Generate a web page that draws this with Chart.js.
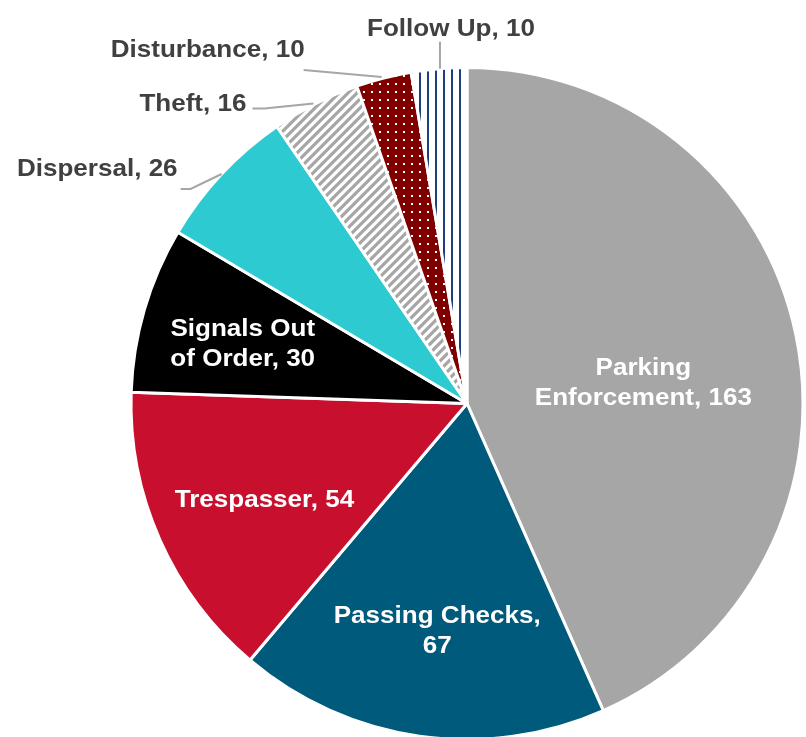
<!DOCTYPE html>
<html>
<head>
<meta charset="utf-8">
<title>Calls by type</title>
<script src="https://cdn.jsdelivr.net/npm/chart.js@4.4.0/dist/chart.umd.min.js"></script>
<style>
    html, body { margin: 0; padding: 0; background: #ffffff; }
    #wrap { width: 806px; height: 737px; }
</style>
</head>
<body>
<div id="wrap"><canvas id="callChart" width="806" height="737"></canvas></div>
<script>
// call types, clockwise from 12 o'clock
const categories = ["Parking Enforcement", "Passing Checks", "Trespasser", "Signals Out of Order",
    "Dispersal", "Theft", "Disturbance", "Follow Up"];
const counts = [163, 67, 54, 30, 26, 16, 10, 10];

// small tiles used as fills for the three smallest slices
function makePattern(size, drawTile) {
    const tile = document.createElement("canvas");
    tile.width = size;
    tile.height = size;
    drawTile(tile.getContext("2d"), size);
    return document.getElementById("callChart").getContext("2d").createPattern(tile, "repeat");
}

const diagonalGray = makePattern(9, (c, s) => {
    c.fillStyle = "#ffffff";
    c.fillRect(0, 0, s, s);
    c.strokeStyle = "#a6a6a6";
    c.lineWidth = 3.2;
    c.beginPath();
    c.moveTo(-2, s + 2); c.lineTo(s + 2, -2);
    c.moveTo(-2, 2); c.lineTo(2, -2);
    c.moveTo(s - 2, s + 2); c.lineTo(s + 2, s - 2);
    c.stroke();
});

const dottedRed = makePattern(8, (c, s) => {
    c.fillStyle = "#7f0000";
    c.fillRect(0, 0, s, s);
    c.fillStyle = "#ffffff";
    c.fillRect(3, 3, 2, 2);
});

const verticalNavy = makePattern(8, (c, s) => {
    c.fillStyle = "#ffffff";
    c.fillRect(0, 0, s, s);
    c.fillStyle = "#1f3f7c";
    c.fillRect(3, 0, 2, s);
});

const sliceColors = ["#a6a6a6", "#005a7c", "#c8102e", "#000000", "#2ecad1",
    diagonalGray, dottedRed, verticalNavy];

// where each label goes: inside ones are shifted from the slice centroid,
// outside ones from the point where the slice meets the rim
const labelPlacement = [
    { inside: true, dx: 12, dy: 6, wrap: 250 },
    { inside: true, dx: -6, dy: 53, wrap: 230 },
    { inside: true, dx: -49, dy: 35, wrap: 250 },
    { inside: true, dx: -63, dy: -20, wrap: 165 },
    { inside: false, dx: -44, dy: 2, align: "right", leader: [[0, 0], [-31, 15], [-41, 15]] },
    { inside: false, dx: -69, dy: 7, align: "right", leader: [[-2, 0], [-51, 5], [-63, 5]] },
    { inside: false, dx: -79, dy: -21, align: "right", leader: [[-2, -1], [-80, -8]] },
    { inside: false, dx: 12, dy: -33, align: "center", leader: [[1, 0], [1, -27]] }
];

const FONT_SIZE = 24;
const STRETCH = 1.085;   // the labels run a bit wider than plain Arial
const LINE_HEIGHT = 30;

function wrapText(ctx, text, maxWidth) {
    const words = text.split(" ");
    const lines = [];
    let line = "";
    words.forEach(w => {
        const test = line ? line + " " + w : w;
        if (line && ctx.measureText(test).width * STRETCH > maxWidth) {
            lines.push(line);
            line = w;
        } else {
            line = test;
        }
    });
    lines.push(line);
    return lines;
}

function drawLine(ctx, text, x, y, align) {
    ctx.save();
    ctx.translate(x, y);
    ctx.scale(STRETCH, 1);
    ctx.textAlign = align;
    ctx.fillText(text, 0, 0);
    ctx.restore();
}

const sliceLabels = {
    id: "sliceLabels",
    afterDatasetsDraw(chart) {
        const ctx = chart.ctx;
        const meta = chart.getDatasetMeta(0);
        ctx.save();
        ctx.font = "bold " + FONT_SIZE + "px 'Liberation Sans', Arial, sans-serif";
        ctx.textBaseline = "alphabetic";
        meta.data.forEach((arc, i) => {
            const place = labelPlacement[i];
            const text = categories[i] + ", " + counts[i];
            if (place.inside) {
                const c = arc.tooltipPosition(true);
                const lines = wrapText(ctx, text, place.wrap);
                ctx.fillStyle = "#ffffff";
                lines.forEach((ln, k) => {
                    drawLine(ctx, ln, c.x + place.dx, c.y + place.dy + k * LINE_HEIGHT, "center");
                });
            } else {
                const p = arc.getProps(["x", "y", "startAngle", "endAngle", "outerRadius"], true);
                const mid = (p.startAngle + p.endAngle) / 2;
                const ox = p.x + Math.cos(mid) * p.outerRadius;
                const oy = p.y + Math.sin(mid) * p.outerRadius;

                ctx.strokeStyle = "#a6a6a6";
                ctx.lineWidth = 2;
                ctx.beginPath();
                place.leader.forEach(([lx, ly], k) => {
                    if (k === 0) ctx.moveTo(ox + lx, oy + ly);
                    else ctx.lineTo(ox + lx, oy + ly);
                });
                ctx.stroke();

                ctx.fillStyle = "#404040";
                drawLine(ctx, text, ox + place.dx, oy + place.dy, place.align);
            }
        });
        ctx.restore();
    }
};

new Chart(document.getElementById("callChart"), {
    type: "pie",
    data: {
        labels: categories,
        datasets: [{
            data: counts,
            backgroundColor: sliceColors,
            borderColor: "#ffffff",
            borderWidth: 3
        }]
    },
    options: {
        responsive: false,
        animation: false,
        radius: 336,
        layout: {
            padding: { left: 132, right: 4, top: 70, bottom: 0 }
        },
        plugins: {
            legend: { display: false },
            tooltip: { enabled: false }
        }
    },
    plugins: [sliceLabels]
});
</script>
</body>
</html>
